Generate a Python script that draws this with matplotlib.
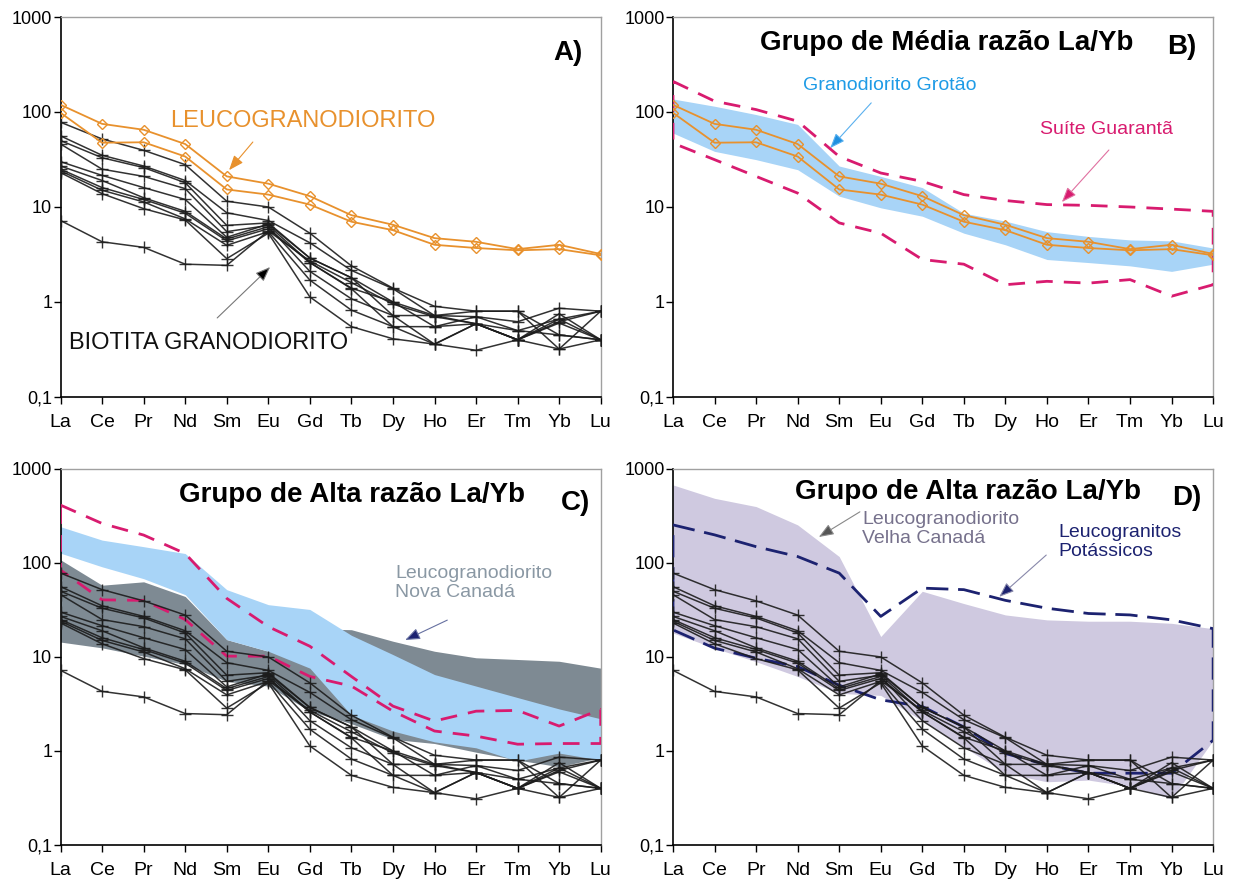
import matplotlib.pyplot as plt
from matplotlib.ticker import NullLocator
import numpy as np

plt.rcParams['font.family'] = ['Liberation Sans', 'DejaVu Sans']

elementos = ['La', 'Ce', 'Pr', 'Nd', 'Sm', 'Eu', 'Gd', 'Tb', 'Dy', 'Ho', 'Er', 'Tm', 'Yb', 'Lu']
x = np.arange(len(elementos))

# Biotita granodiorito (amostras normalizadas ao condrito)
biotita = [
    [78, 52, 39.5, 27.9, 11.5, 10.0, 5.3, 2.4, 1.4, 0.9, 0.8, 0.8, 0.45, 0.4],
    [56, 35, 27, 19, 8.7, 7.2, 4.2, 2.15, 1.38, 0.72, 0.7, 0.62, 0.86, 0.8],
    [50, 33, 26, 18, 6.4, 6.8, 2.9, 1.8, 1.0, 0.55, 0.59, 0.5, 0.66, 0.8],
    [46, 25, 21, 15.6, 5.5, 6.4, 2.6, 1.4, 1.0, 0.72, 0.59, 0.4, 0.75, 0.4],
    [30, 21.5, 16, 12, 4.8, 6.6, 2.9, 1.8, 0.72, 0.72, 0.8, 0.8, 0.32, 0.8],
    [27, 19, 12.5, 9, 4.6, 6.2, 2.1, 1.08, 0.72, 0.36, 0.59, 0.4, 0.66, 0.4],
    [25, 16, 12, 8.6, 4.4, 5.9, 2.6, 1.38, 0.55, 0.55, 0.7, 0.5, 0.45, 0.4],
    [24, 15, 11.3, 7.5, 3.95, 5.5, 1.7, 0.82, 0.55, 0.36, 0.59, 0.4, 0.32, 0.4],
    [23, 13.8, 9.6, 7.3, 2.86, 5.3, 1.13, 0.55, 0.41, 0.36, 0.31, 0.4, 0.62, 0.8],
    [7.2, 4.3, 3.76, 2.5, 2.43, 5.6, 2.7, 1.6, 0.95, 0.7, 0.59, 0.4, 0.6, 0.4],
]

# Leucogranodiorito
leuco = [
    [119, 75, 65, 46, 21, 17.6, 13, 8.2, 6.5, 4.7, 4.3, 3.6, 4.0, 3.2],
    [98, 47.5, 48, 34, 15.3, 13.5, 10.6, 7.0, 5.7, 4.0, 3.7, 3.5, 3.6, 3.1],
]

# B) Granodiorito Grotão (campo) e Suíte Guarantã (envoltória)
grotao_sup = [137, 115, 94, 74, 27, 21, 16, 8.6, 7.1, 5.5, 4.9, 4.5, 4.4, 3.7]
grotao_inf = [60, 38.5, 31.5, 24.7, 13, 9.8, 8, 5.3, 4, 2.8, 2.6, 2.4, 2.1, 2.5]
guaranta_sup = [210, 130, 106, 80, 34, 22.8, 18.6, 13.5, 11.7, 10.6, 10.4, 10, 9.5, 9]
guaranta_inf = [47, 31.5, 21, 14, 6.8, 5.3, 2.8, 2.5, 1.52, 1.65, 1.58, 1.72, 1.15, 1.52]

# C) campos de comparação
nova_canada_sup = [108, 58, 63, 44, 15.3, 11.5, 20, 19.5, 14.7, 11.5, 9.8, 9.4, 9.0, 7.6]
nova_canada_inf = [14.4, 12.5, 10.2, 8.3, 5.5, 4.9, 2.65, 1.95, 1.33, 1.2, 0.97, 0.8, 0.68, 0.85]
azul_c_sup = [243, 175, 149, 126, 52, 36, 32, 17, 10.6, 6.5, 4.9, 3.7, 2.8, 2.2]
azul_c_inf = [127, 91, 68, 46, 15.3, 11.5, 7.6, 2.4, 1.63, 1.25, 1.08, 0.78, 0.95, 0.8]
rosa_c_sup = [412, 263, 198, 126, 42, 21, 13, 6.2, 3.0, 2.08, 2.65, 2.7, 1.84, 2.77]
rosa_c_inf = [84, 40.5, 40, 25, 10.2, 10.2, 6.2, 4.9, 2.65, 1.63, 1.44, 1.18, 1.2, 1.2]

# D) Leucogranodiorito Velha Canadá e Leucogranitos Potássicos
velha_canada_sup = [676, 487, 398, 254, 117, 16.5, 50, 37, 28, 24.8, 24, 24, 22.8, 20]
velha_canada_inf = [18, 12.4, 8.9, 6.2, 4.1, 3.9, 2.1, 1.1, 0.58, 0.47, 0.49, 0.42, 0.31, 1.3]
potassicos_sup = [254, 199, 149, 117, 78, 27, 54, 52, 40, 33, 29, 28, 24.8, 20]
potassicos_inf = [19.4, 12.4, 9.7, 7.9, 5.0, 3.5, 2.97, 1.8, 0.94, 0.71, 0.58, 0.58, 0.58, 1.3]

LARANJA = '#E8912D'
ROSA = '#D81B6F'
AZUL = '#A8D4F7'
CINZA = '#7E8A93'
LILAS = '#CFC9E0'
MARINHO = '#1C2270'


def eixo(ax):
    ax.set_yscale('log')
    ax.set_ylim(0.1, 1000)
    ax.set_xlim(0, 13)
    ax.set_yticks([0.1, 1, 10, 100, 1000])
    ax.set_yticklabels(['0,1', '1', '10', '100', '1000'], fontsize=13)
    ax.yaxis.set_minor_locator(NullLocator())
    ax.set_xticks(x)
    ax.set_xticklabels(elementos, fontsize=14)
    ax.tick_params(axis='y', length=5, width=1, pad=1)
    ax.tick_params(axis='x', length=5, width=1, pad=7)
    for s in ['top', 'right']:
        ax.spines[s].set_color('#A0A0A0')
        ax.spines[s].set_linewidth(1)
    for s in ['left', 'bottom']:
        ax.spines[s].set_linewidth(1.2)


def amostras(ax):
    for a in biotita:
        ax.plot(x, a, color='#1c1c1c', lw=1.1, alpha=0.9, marker='+', ms=8, mew=1, zorder=5)


def leucos(ax):
    for a in leuco:
        ax.plot(x, a, color=LARANJA, lw=1.3, marker='D', ms=5.5, mfc='none', mew=1, zorder=6)


def envoltoria(ax, sup, inf, cor, dashes):
    xs = list(x) + list(x[::-1]) + [x[0]]
    ys = list(sup) + list(inf[::-1]) + [sup[0]]
    ax.plot(xs, ys, color=cor, lw=2, dashes=dashes, zorder=4)


def seta(ax, de, para, cor_linha, cor_ponta=None):
    ax.annotate('', xy=para, xytext=de, xycoords='axes fraction',
                arrowprops=dict(arrowstyle='-|>,head_length=0.9,head_width=0.35',
                                color=cor_linha, lw=0.8, shrinkA=0, shrinkB=0,
                                fc=cor_ponta or cor_linha))


def rotulo(ax, letra, px, py):
    ax.text(px, py, letra, transform=ax.transAxes, fontsize=20, fontweight='bold',
            ha='center', va='center')


fig = plt.figure(figsize=(12.36, 8.81), dpi=100)
axA = fig.add_axes([0.049, 0.5494, 0.437, 0.4313])
axB = fig.add_axes([0.5445, 0.5494, 0.437, 0.4313])
axC = fig.add_axes([0.049, 0.0409, 0.437, 0.4268])
axD = fig.add_axes([0.5445, 0.0409, 0.437, 0.4268])

# A)
eixo(axA)
amostras(axA)
leucos(axA)
rotulo(axA, 'A)', 0.94, 0.905)
axA.text(0.203, 0.726, 'LEUCOGRANODIORITO', transform=axA.transAxes, fontsize=17,
         color=LARANJA, va='center')
seta(axA, (0.356, 0.671), (0.312, 0.597), LARANJA)
axA.text(0.016, 0.142, 'BIOTITA GRANODIORITO', transform=axA.transAxes, fontsize=17,
         color='#111111', va='center')
seta(axA, (0.29, 0.208), (0.388, 0.342), '#777777', '#000000')

# B)
eixo(axB)
axB.fill_between(x, grotao_inf, grotao_sup, color=AZUL, lw=0, zorder=2)
envoltoria(axB, guaranta_sup, guaranta_inf, ROSA, (6, 4))
leucos(axB)
axB.text(0.506, 0.932, 'Grupo de Média razão La/Yb', transform=axB.transAxes,
         fontsize=20, fontweight='bold', ha='center', va='center')
rotulo(axB, 'B)', 0.941, 0.921)
axB.text(0.241, 0.821, 'Granodiorito Grotão', transform=axB.transAxes, fontsize=14,
         color='#1E9BE6', va='center')
seta(axB, (0.367, 0.774), (0.291, 0.655), '#5AB0EE', '#1E8FE0')
axB.text(0.68, 0.703, 'Suíte Guarantã', transform=axB.transAxes, fontsize=14,
         color=ROSA, va='center')
seta(axB, (0.807, 0.65), (0.72, 0.513), '#E070A0', ROSA)

# C)
eixo(axC)
axC.fill_between(x, nova_canada_inf, nova_canada_sup, color=CINZA, lw=0, zorder=1)
axC.fill_between(x, azul_c_inf, azul_c_sup, color=AZUL, lw=0, zorder=2)
envoltoria(axC, rosa_c_sup, rosa_c_inf, ROSA, (6, 4))
amostras(axC)
axC.text(0.54, 0.931, 'Grupo de Alta razão La/Yb', transform=axC.transAxes,
         fontsize=20, fontweight='bold', ha='center', va='center')
rotulo(axC, 'C)', 0.953, 0.91)
axC.text(0.619, 0.697, 'Leucogranodiorito\nNova Canadá', transform=axC.transAxes,
         fontsize=14, color='#8A98A4', va='center', linespacing=1.1)
seta(axC, (0.716, 0.598), (0.638, 0.545), '#6670A0', MARINHO)

# D)
eixo(axD)
axD.fill_between(x, velha_canada_inf, velha_canada_sup, color=LILAS, lw=0, zorder=1)
envoltoria(axD, potassicos_sup, potassicos_inf, MARINHO, (8, 3.5))
amostras(axD)
axD.text(0.546, 0.939, 'Grupo de Alta razão La/Yb', transform=axD.transAxes,
         fontsize=20, fontweight='bold', ha='center', va='center')
rotulo(axD, 'D)', 0.952, 0.923)
axD.text(0.35, 0.84, 'Leucogranodiorito\nVelha Canadá', transform=axD.transAxes,
         fontsize=14, color='#76718C', va='center', linespacing=1.1)
seta(axD, (0.346, 0.886), (0.27, 0.819), '#888888', '#555555')
axD.text(0.713, 0.806, 'Leucogranitos\nPotássicos', transform=axD.transAxes,
         fontsize=14, color=MARINHO, va='center', linespacing=1.1)
seta(axD, (0.691, 0.771), (0.604, 0.66), '#8888AA', MARINHO)

fig.savefig('out.png', dpi=100)
